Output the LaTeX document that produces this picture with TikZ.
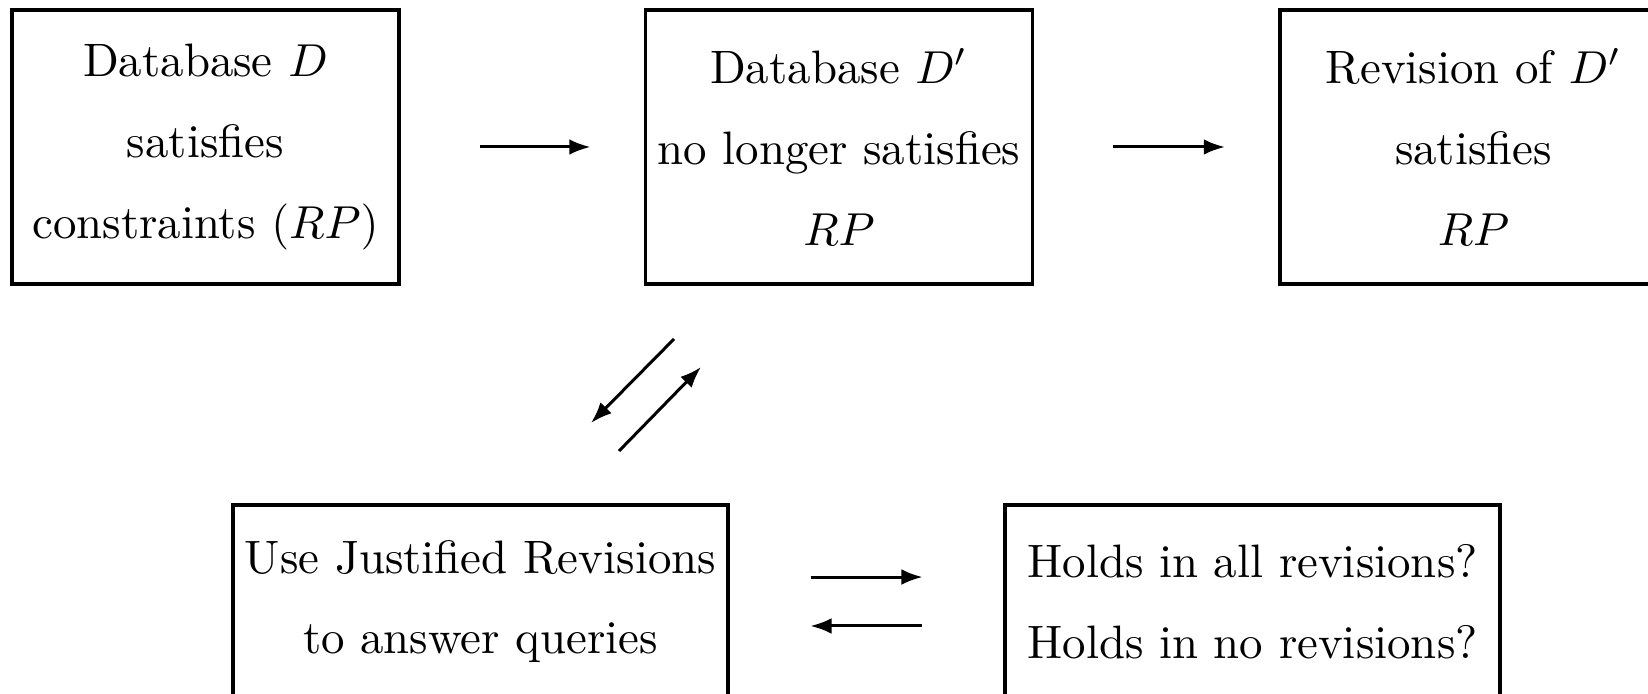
\documentclass[tikz,border=0pt]{standalone}
\usepackage{amsmath, amssymb}
\usepackage{tikz}
\usetikzlibrary{positioning, arrows.meta}
\tikzset{%
    % Boxes of the revision diagram
    block/.style    = {draw, line width = 0.7pt, rectangle, align = center,
    outer sep = 0pt, inner xsep = 1.5pt,
    font = \fontsize{10.15}{17.5}\selectfont,
    minimum width = 83.8pt, minimum height = 59.3pt},
    wideblock/.style = {block, minimum width = 107.2pt,
    minimum height = 41.8pt},
    % Arrows
    arr/.style      = {line width = 0.65pt, -{Latex[length=4.6pt,width=3.4pt]}},
    gap/.style      = {shorten <= 17.5pt, shorten >= 11.9pt},
    botgap/.style   = {shorten <= 18pt, shorten >= 17.8pt}
}
\begin{document}
\begin{tikzpicture}[x=0.2165pt, y=0.2165pt]
	\clip (0,0) rectangle (1648,693);
	\useasboundingbox (0,0) rectangle (1648,693);

	\node[block] (satD) at (205.5,546) {Database $D$\\ satisfies\\ constraints $(RP)$};
	\node[block] (notD) at (839,546) {Database $D'$\\ no longer satisfies\\ $RP$};
	\node[block] (revD) at (1473.5,546) {Revision of $D'$\\ satisfies\\ $RP$};
	\node[wideblock] (just) at (480.5,91.5) {Use Justified Revisions\\ to answer queries};
	\node[wideblock] (holds) at (1252.5,91.5) {Holds in all revisions?\\ Holds in no revisions?};

	\coordinate (dA) at (674,354);
	\coordinate (dB) at (591,270);
	\coordinate (dC) at (619,242);
	\coordinate (dD) at (701,326);

	\draw[arr, gap] (satD) -- (notD);
	\draw[arr, gap] (notD) -- (revD);
	\draw[arr] (dA) -- (dB);
	\draw[arr] (dC) -- (dD);
	\draw[arr, botgap] ([yshift=5.3pt]just.east) -- ([yshift=5.3pt]holds.west);
	\draw[arr, botgap] ([yshift=-5.3pt]holds.west) -- ([yshift=-5.3pt]just.east);
\end{tikzpicture}
\end{document}
